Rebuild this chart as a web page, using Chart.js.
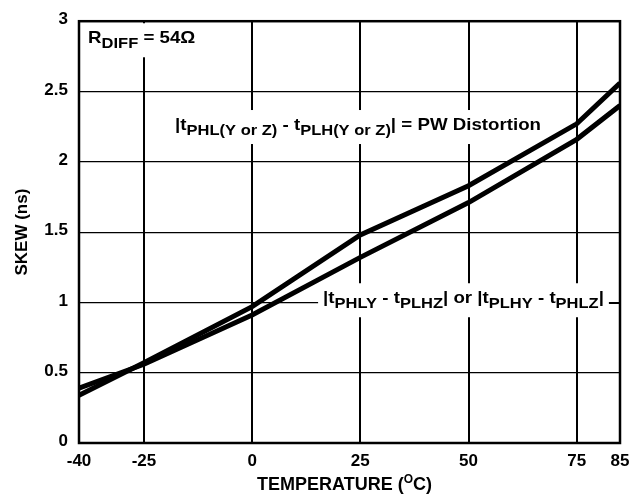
<!DOCTYPE html>
<html>
<head>
<meta charset="utf-8">
<script src="https://cdn.jsdelivr.net/npm/chart.js@4.4.1/dist/chart.umd.min.js"></script>
<style>
  html, body { margin: 0; padding: 0; background: #fff; }
  #wrap { width: 642px; height: 497px; }
</style>
</head>
<body>
<div id="wrap"><canvas id="chart" width="642" height="497"></canvas></div>
<script>
  // temperature points (°C) and skew (ns)
  const TEMPS = [-40, -25, 0, 25, 50, 75, 85];
  const PW_DISTORTION = [0.34, 0.57, 0.97, 1.48, 1.83, 2.27, 2.56];
  const CHANNEL_SKEW = [0.39, 0.56, 0.91, 1.32, 1.71, 2.16, 2.40];
  const X_TICKS = [-40, -25, 0, 25, 50, 75, 85];
  const Y_TICKS = [0, 0.5, 1, 1.5, 2, 2.5, 3];

  const FONT = '"Liberation Sans", Arial, Helvetica, sans-serif';

  // rich labels, anchored at left/baseline in data units: [text, isSubscript]
  const LABELS = [
    { x: -37.9, y: 2.843, parts: [['R', 0], ['DIFF', 1], [' = 54\u03A9', 0]] },
    { x: -17.8, y: 2.226, parts: [['|t', 0], ['PHL(Y or Z)', 1], [' - t', 0], ['PLH(Y or Z)', 1], ['| = PW Distortion', 0]] },
    { x: 16.4, y: 0.994, leader: true, parts: [['|t', 0], ['PHLY', 1], [' - t', 0], ['PLHZ', 1], ['| or |t', 0], ['PLHY', 1], [' - t', 0], ['PHLZ', 1], ['|', 0]] }
  ];

  function toPoints(ys) {
    return TEMPS.map((t, i) => ({ x: t, y: ys[i] }));
  }

  const mainFont = 'bold 17px ' + FONT;
  const subFont = 'bold 15px ' + FONT;
  const STRETCH = 1.1;

  function partWidth(ctx, p) {
    ctx.font = p[1] ? subFont : mainFont;
    return ctx.measureText(p[0]).width;
  }

  const annotations = {
    id: 'annotations',
    beforeDatasetsDraw(chart) {
      const { ctx, scales: { x, y }, chartArea } = chart;
      ctx.save();
      LABELS.forEach(lab => {
        const left = x.getPixelForValue(lab.x);
        const base = y.getPixelForValue(lab.y);
        const w = lab.parts.reduce((s, p) => s + partWidth(ctx, p), 0) * STRETCH;
        ctx.fillStyle = '#fff';
        ctx.fillRect(left - 5, base - 20, w + 10, 34);
        if (lab.leader) {
          ctx.strokeStyle = '#000';
          ctx.lineWidth = 1.5;
          ctx.beginPath();
          ctx.moveTo(left + w + 5, base);
          ctx.lineTo(chartArea.right, base);
          ctx.stroke();
        }
        ctx.fillStyle = '#000';
        ctx.textBaseline = 'alphabetic';
        ctx.textAlign = 'left';
        ctx.save();
        ctx.translate(left, base);
        ctx.scale(STRETCH, 1);
        let cx = 0;
        lab.parts.forEach(p => {
          ctx.font = p[1] ? subFont : mainFont;
          ctx.fillText(p[0], cx, p[1] ? 5 : 0);
          cx += ctx.measureText(p[0]).width;
        });
        ctx.restore();
      });
      ctx.restore();
    },
    afterDraw(chart) {
      const { ctx, chartArea: a } = chart;
      ctx.save();
      // plot frame
      ctx.strokeStyle = '#000';
      ctx.lineWidth = 2.5;
      ctx.strokeRect(a.left, a.top, a.right - a.left, a.bottom - a.top);
      // axis titles
      ctx.fillStyle = '#000';
      ctx.textBaseline = 'alphabetic';
      const big = 'bold 18px ' + FONT;
      const sup = 'bold 12px ' + FONT;
      const t1 = 'TEMPERATURE (', t2 = 'O', t3 = 'C)';
      ctx.font = big;
      const w1 = ctx.measureText(t1).width, w3 = ctx.measureText(t3).width;
      ctx.font = sup;
      const w2 = ctx.measureText(t2).width;
      const sx = (a.left + a.right) / 2 - 5 - (w1 + w2 + w3) / 2;
      const by = 490;
      ctx.font = big;
      ctx.fillText(t1, sx, by);
      ctx.font = sup;
      ctx.fillText(t2, sx + w1, by - 7);
      ctx.font = big;
      ctx.fillText(t3, sx + w1 + w2, by);

      ctx.font = 'bold 17px ' + FONT;
      ctx.translate(22, (a.top + a.bottom) / 2);
      ctx.rotate(-Math.PI / 2);
      ctx.textAlign = 'center';
      ctx.textBaseline = 'middle';
      ctx.fillText('SKEW (ns)', 0, 0);
      ctx.restore();
    }
  };

  new Chart(document.getElementById('chart'), {
    type: 'line',
    data: {
      datasets: [
        { label: 'PW Distortion', data: toPoints(PW_DISTORTION) },
        { label: 'Channel skew', data: toPoints(CHANNEL_SKEW) }
      ].map(d => Object.assign(d, {
        borderColor: '#000',
        borderWidth: 5,
        pointRadius: 0,
        tension: 0,
        fill: false,
        borderCapStyle: 'butt'
      }))
    },
    options: {
      responsive: false,
      animation: false,
      events: [],
      layout: { padding: { top: 17, right: 22, left: 0, bottom: 0 } },
      plugins: { legend: { display: false }, tooltip: { enabled: false } },
      scales: {
        x: {
          type: 'linear',
          min: -40,
          max: 85,
          afterBuildTicks: s => { s.ticks = X_TICKS.map(v => ({ value: v })); },
          afterFit: s => { s.height = 54; },
          border: { display: false },
          grid: {
            drawTicks: false,
            color: c => (c.tick.value === -40 || c.tick.value === 85) ? 'rgba(0,0,0,0)' : '#000',
            lineWidth: 2
          },
          ticks: {
            color: '#000',
            padding: 8,
            maxRotation: 0,
            autoSkip: false,
            callback: v => String(v),
            font: { family: FONT, size: 17, weight: 'bold' }
          }
        },
        y: {
          min: 0,
          max: 3,
          afterBuildTicks: s => { s.ticks = Y_TICKS.map(v => ({ value: v })); },
          afterFit: s => { s.width = 79; },
          border: { display: false },
          grid: {
            drawTicks: false,
            color: c => (c.tick.value === 0 || c.tick.value === 3) ? 'rgba(0,0,0,0)' : '#000',
            lineWidth: 1.2
          },
          ticks: {
            color: '#000',
            padding: 11,
            labelOffset: -1.5,
            callback: v => String(v),
            font: { family: FONT, size: 17, weight: 'bold' }
          }
        }
      }
    },
    plugins: [annotations]
  });
</script>
</body>
</html>
